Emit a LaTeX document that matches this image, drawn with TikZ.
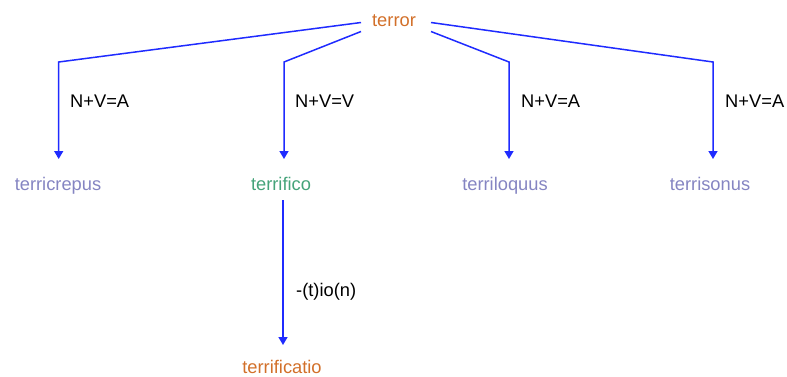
\documentclass[tikz,border=0pt]{standalone}
\usepackage{fontspec}
\setmainfont{Liberation Sans}
\usetikzlibrary{arrows.meta}
\definecolor{orng}{HTML}{D2702A}
\definecolor{purp}{HTML}{8585C2}
\definecolor{grn}{HTML}{45A37A}
\definecolor{lblue}{HTML}{1F2BFF}
\tikzset{
  word/.style={inner sep=0pt, anchor=base, font=\fontsize{18.3}{21}\selectfont},
  lbl/.style={inner sep=0pt, anchor=base west, font=\fontsize{18.3}{21}\selectfont, text=black},
  conn/.style={draw=lblue, line width=1.5pt, -{Triangle[width=9pt,length=8pt]}},
}
\begin{document}
\begin{tikzpicture}[x=1pt,y=-1pt]
\useasboundingbox (0,0) rectangle (787,376);
\node[word, text=orng] (terror) at (394,26.5) {terror};
\node[word, text=purp] (crep) at (58,190) {terricrepus};
\node[word, text=grn] (fico) at (281,190) {terrifico};
\node[word, text=purp] (loq) at (505,190) {terriloquus};
\node[word, text=purp] (son) at (710,190) {terrisonus};
\node[word, text=orng] (catio) at (282,373) {terrificatio};

\coordinate (sA) at (361,22.5);
\coordinate (sB) at (361,31.5);
\coordinate (sC) at (431,22.5);
\coordinate (sD) at (431,31.5);
\coordinate (bA) at (58.7,62);
\coordinate (bB) at (284,62);
\coordinate (bC) at (509,62);
\coordinate (bD) at (713,62);
\coordinate (tA) at (58.7,159);
\coordinate (tB) at (284,159);
\coordinate (tC) at (509,159);
\coordinate (tD) at (713,159);
\coordinate (fs) at (283,200);
\coordinate (ft) at (283,345);

\draw[conn] (sA) -- (bA) -- (tA);
\draw[conn] (sB) -- (bB) -- (tB);
\draw[conn] (sD) -- (bC) -- (tC);
\draw[conn] (sC) -- (bD) -- (tD);
\draw[conn] (fs) -- (ft);

\node[lbl] (lA) at (70,107.5) {N+V=A};
\node[lbl] (lB) at (295,107.5) {N+V=V};
\node[lbl] (lC) at (521,107.5) {N+V=A};
\node[lbl] (lD) at (725,107.5) {N+V=A};
\node[lbl] (lE) at (296,296) {-(t)io(n)};
\end{tikzpicture}
\end{document}
